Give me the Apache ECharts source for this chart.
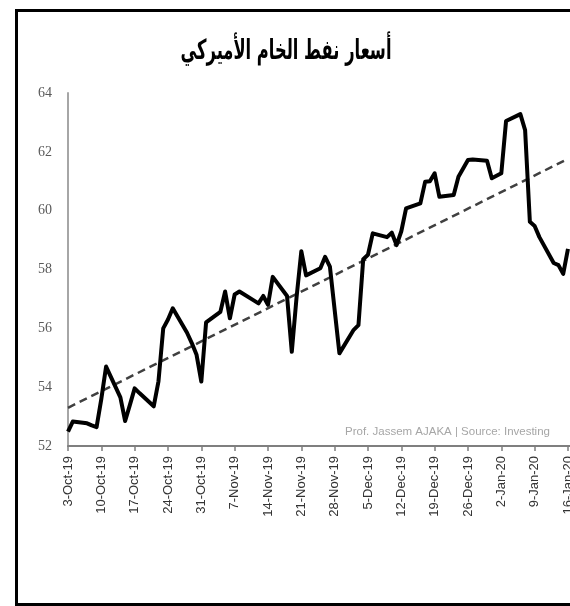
<!DOCTYPE html>
<html>
<head>
<meta charset="utf-8">
<script src="https://cdn.jsdelivr.net/npm/echarts@6/dist/echarts.min.js"></script>
<style>
  html, body { margin: 0; padding: 0; background: #fff; overflow: hidden; width: 570px; height: 606px; }
  #chart { position: absolute; left: 0; top: 0; width: 700px; height: 606px; }
  #frame { position: absolute; left: 15px; top: 9px; width: 700px; height: 591px; border: 3px solid #000; pointer-events: none; }
</style>
</head>
<body>
<div id="chart"></div>
<div id="frame"></div>
<script>
// trading days
const dates = [
  '2019-10-03', '2019-10-04', '2019-10-07', '2019-10-08', '2019-10-09', '2019-10-10', '2019-10-11',
  '2019-10-14', '2019-10-15', '2019-10-16', '2019-10-17', '2019-10-18',
  '2019-10-21', '2019-10-22', '2019-10-23', '2019-10-24', '2019-10-25',
  '2019-10-28', '2019-10-29', '2019-10-30', '2019-10-31', '2019-11-01',
  '2019-11-04', '2019-11-05', '2019-11-06', '2019-11-07', '2019-11-08',
  '2019-11-11', '2019-11-12', '2019-11-13', '2019-11-14', '2019-11-15',
  '2019-11-18', '2019-11-19', '2019-11-20', '2019-11-21', '2019-11-22',
  '2019-11-25', '2019-11-26', '2019-11-27', '2019-11-29',
  '2019-12-02', '2019-12-03', '2019-12-04', '2019-12-05', '2019-12-06',
  '2019-12-09', '2019-12-10', '2019-12-11', '2019-12-12', '2019-12-13',
  '2019-12-16', '2019-12-17', '2019-12-18', '2019-12-19', '2019-12-20',
  '2019-12-23', '2019-12-24', '2019-12-26', '2019-12-27',
  '2019-12-30', '2019-12-31', '2020-01-02', '2020-01-03',
  '2020-01-06', '2020-01-07', '2020-01-08', '2020-01-09', '2020-01-10',
  '2020-01-13', '2020-01-14', '2020-01-15', '2020-01-16'
];
const prices = [
  52.49, 52.83, 52.77, 52.70, 52.64, 53.60, 54.70,
  53.65, 52.85, 53.40, 53.96, 53.80,
  53.35, 54.20, 56.00, 56.30, 56.68,
  55.85, 55.50, 55.10, 54.19, 56.20,
  56.56, 57.25, 56.34, 57.15, 57.25,
  56.95, 56.85, 57.10, 56.80, 57.75,
  57.10, 55.20, 57.05, 58.62, 57.80,
  58.04, 58.43, 58.10, 55.15,
  55.95, 56.11, 58.35, 58.50, 59.23,
  59.10, 59.25, 58.83, 59.30, 60.08,
  60.25, 60.98, 61.00, 61.27, 60.47,
  60.53, 61.15, 61.72, 61.74,
  61.70, 61.10, 61.27, 63.05,
  63.28, 62.74, 59.62, 59.48, 59.10,
  58.22, 58.15, 57.85, 58.70
];
// dashed trend line ends
const trendDates = ['2019-10-03', '2020-01-16'];
const trendValues = [53.3, 61.76];

const yTicks = { min: 52, max: 64, step: 2 };
const months = ['Jan', 'Feb', 'Mar', 'Apr', 'May', 'Jun', 'Jul', 'Aug', 'Sep', 'Oct', 'Nov', 'Dec'];

const DAY = 86400000;
const start = Date.UTC(2019, 9, 3);
const dayOf = (s) => {
  const p = s.split('-');
  return Math.round((Date.UTC(+p[0], +p[1] - 1, +p[2]) - start) / DAY);
};
const fmt = (d) => {
  const t = new Date(start + d * DAY);
  return t.getUTCDate() + '-' + months[t.getUTCMonth()] + '-' + String(t.getUTCFullYear()).slice(2);
};

const chart = echarts.init(document.getElementById('chart'));
chart.setOption({
  animation: false,
  backgroundColor: '#fff',
  grid: { left: 68, top: 93, right: 98.7, bottom: 160 },
  xAxis: {
    type: 'value',
    min: 0,
    max: 112,
    interval: 7,
    axisLine: { lineStyle: { color: '#7f7f7f', width: 2 } },
    axisTick: { show: true, length: 5, lineStyle: { color: '#7f7f7f', width: 1.5 } },
    splitLine: { show: false },
    axisLabel: {
      rotate: 90,
      margin: 10,
      fontFamily: 'Liberation Sans',
      fontSize: 13,
      color: '#333',
      formatter: (v) => fmt(v)
    }
  },
  yAxis: {
    type: 'value',
    min: yTicks.min,
    max: yTicks.max,
    interval: yTicks.step,
    axisLine: { show: true, lineStyle: { color: '#a6a6a6', width: 2 } },
    axisTick: { show: false },
    splitLine: { show: false },
    axisLabel: { margin: 16, fontFamily: 'Liberation Serif', fontSize: 14, color: '#595959' }
  },
  graphic: [
    {
      // chart title, narrowed to the width it has in the picture
      type: 'text',
      x: 286,
      y: 52,
      scaleX: 0.68,
      scaleY: 1.15,
      style: {
        text: 'أسعار نفط الخام الأميركي',
        fontFamily: 'DejaVu Sans',
        fontWeight: 'bold',
        fontSize: 24,
        fill: '#000',
        align: 'center',
        verticalAlign: 'middle'
      }
    },
    {
      type: 'text',
      left: 345,
      top: 426,
      style: {
        text: 'Prof. Jassem AJAKA | Source: Investing',
        fontFamily: 'Liberation Sans',
        fontSize: 11.5,
        fill: '#a6a6a6'
      }
    }
  ],
  series: [
    {
      name: 'WTI',
      type: 'line',
      showSymbol: false,
      data: dates.map((d, i) => [dayOf(d), prices[i]]),
      lineStyle: { color: '#000', width: 4, join: 'round' },
      z: 3
    },
    {
      name: 'trend',
      type: 'line',
      showSymbol: false,
      data: trendDates.map((d, i) => [dayOf(d), trendValues[i]]),
      lineStyle: { color: '#404040', width: 2.5, type: [8, 5] },
      z: 2
    }
  ]
});
</script>
</body>
</html>
